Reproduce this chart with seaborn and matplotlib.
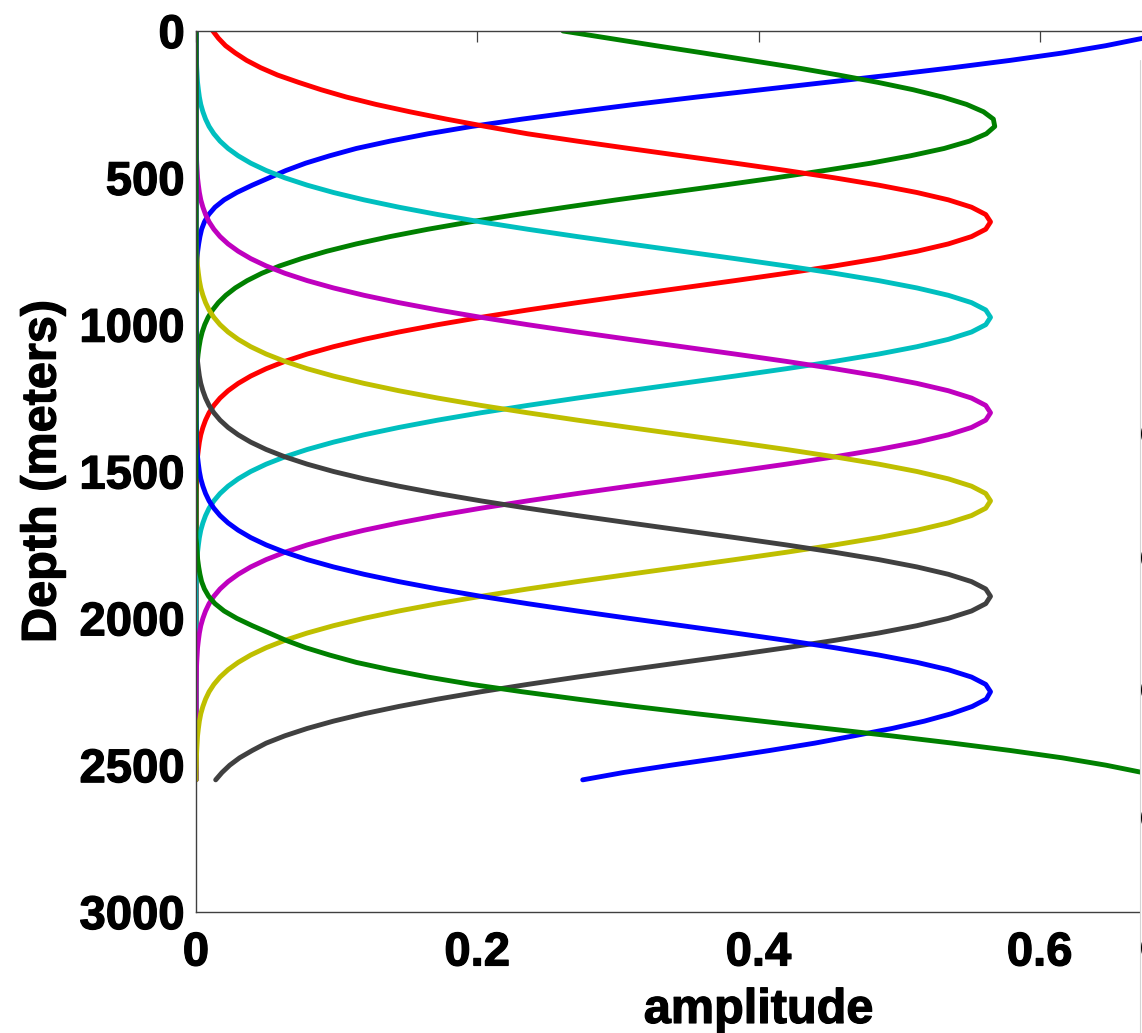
import numpy as np
import pandas as pd
import matplotlib
matplotlib.use("Agg")
import matplotlib.pyplot as plt
import matplotlib.patheffects as pe
from matplotlib.patches import Rectangle
from matplotlib.lines import Line2D
import seaborn as sns

# Depth samples (m) shared by every mode profile
depth_m = np.arange(0, 2551, 25)

# Amplitude of each mode at the depth samples above
amp_mode1 = [0.691, 0.673, 0.647, 0.616, 0.579, 0.538, 0.494, 0.448, 0.402, 0.356,
             0.312, 0.271, 0.232, 0.196, 0.165, 0.138, 0.114, 0.095, 0.078, 0.064,
             0.052, 0.040, 0.029, 0.020, 0.0135, 0.009, 0.006, 0.004, 0.0028, 0.0019,
             0.0012, 0.0008, 0.0005,
             0, 0, 0, 0, 0, 0, 0, 0, 0, 0, 0, 0, 0, 0, 0, 0, 0, 0, 0, 0,
             0, 0, 0, 0, 0, 0, 0, 0, 0, 0, 0, 0, 0, 0, 0, 0, 0, 0, 0, 0,
             0, 0, 0, 0, 0, 0, 0, 0, 0, 0, 0, 0, 0, 0, 0, 0, 0, 0, 0, 0,
             0, 0, 0, 0, 0, 0, 0, 0, 0, 0]

amp_mode2 = [0.261, 0.294, 0.327, 0.361, 0.394, 0.427, 0.457, 0.485, 0.510, 0.531,
             0.548, 0.560, 0.567, 0.568, 0.562, 0.550, 0.532, 0.508, 0.480, 0.447,
             0.412, 0.375, 0.337, 0.299, 0.263, 0.228, 0.195, 0.165, 0.138, 0.114,
             0.093, 0.075, 0.0595, 0.0468, 0.0364, 0.0279, 0.0212, 0.0159, 0.0118, 0.0086,
             0.0062, 0.0044, 0.0031, 0.0022, 0.0015, 0.0010, 0.0006, 0.0004,
             0, 0, 0, 0, 0, 0, 0, 0, 0, 0, 0, 0, 0, 0, 0, 0, 0, 0, 0, 0,
             0, 0, 0, 0, 0, 0, 0, 0, 0, 0, 0, 0, 0, 0, 0, 0, 0, 0, 0, 0,
             0, 0, 0, 0, 0, 0, 0, 0, 0, 0, 0, 0, 0, 0, 0]

amp_mode3 = [0.012, 0.016, 0.021, 0.028, 0.036, 0.046, 0.058, 0.073, 0.089, 0.107,
             0.128, 0.152, 0.178, 0.206,
             0.2358, 0.2711, 0.3080, 0.3456, 0.3832, 0.4197, 0.4541, 0.4855, 0.5127, 0.5350,
             0.5515, 0.5616, 0.565, 0.5616, 0.5515, 0.5350, 0.5127, 0.4855, 0.4541, 0.4197,
             0.3832, 0.3456, 0.3080, 0.2711, 0.2358, 0.2026, 0.1720, 0.1443, 0.1195, 0.0978,
             0.0791, 0.0632, 0.0499, 0.0389, 0.0300, 0.0228, 0.0171, 0.0127, 0.0093, 0.0068,
             0.0049, 0.0034, 0.0024, 0.0017, 0.0011, 0.0008, 0.0005, 0.0003, 0.0002,
             0, 0, 0, 0, 0, 0, 0, 0, 0, 0, 0, 0, 0, 0, 0, 0, 0, 0, 0, 0,
             0, 0, 0, 0, 0, 0, 0, 0, 0, 0, 0, 0, 0, 0, 0, 0, 0, 0, 0, 0]

amp_mode4 = [0, 0, 0,
             0.0002, 0.0003, 0.0005, 0.0008, 0.0011, 0.0017, 0.0024, 0.0034, 0.0049, 0.0068,
             0.0093, 0.0127, 0.0171, 0.0228, 0.0300, 0.0389, 0.0499, 0.0632, 0.0791, 0.0978,
             0.1195, 0.1443, 0.1720, 0.2026, 0.2358, 0.2711, 0.3080, 0.3456, 0.3832, 0.4197,
             0.4541, 0.4855, 0.5127, 0.5350, 0.5515, 0.5616, 0.565, 0.5616, 0.5515, 0.5350,
             0.5127, 0.4855, 0.4541, 0.4197, 0.3832, 0.3456, 0.3080, 0.2711, 0.2358, 0.2026,
             0.1720, 0.1443, 0.1195, 0.0978, 0.0791, 0.0632, 0.0499, 0.0389, 0.0300, 0.0228,
             0.0171, 0.0127, 0.0093, 0.0068, 0.0049, 0.0034, 0.0024, 0.0017, 0.0011, 0.0008,
             0.0005, 0.0003, 0.0002,
             0, 0, 0, 0, 0, 0, 0, 0, 0, 0, 0, 0, 0, 0, 0, 0, 0, 0, 0, 0,
             0, 0, 0, 0, 0, 0, 0]

amp_mode5 = [0, 0, 0, 0, 0, 0, 0, 0, 0, 0, 0, 0, 0, 0, 0, 0,
             0.0002, 0.0003, 0.0005, 0.0008, 0.0011, 0.0017, 0.0024, 0.0034, 0.0049, 0.0068,
             0.0093, 0.0127, 0.0171, 0.0228, 0.0300, 0.0389, 0.0499, 0.0632, 0.0791, 0.0978,
             0.1195, 0.1443, 0.1720, 0.2026, 0.2358, 0.2711, 0.3080, 0.3456, 0.3832, 0.4197,
             0.4541, 0.4855, 0.5127, 0.5350, 0.5515, 0.5616, 0.565, 0.5616, 0.5515, 0.5350,
             0.5127, 0.4855, 0.4541, 0.4197, 0.3832, 0.3456, 0.3080, 0.2711, 0.2358, 0.2026,
             0.1720, 0.1443, 0.1195, 0.0978, 0.0791, 0.0632, 0.0499, 0.0389, 0.0300, 0.0228,
             0.0171, 0.0127, 0.0093, 0.0068, 0.0049, 0.0034, 0.0024, 0.0017, 0.0011, 0.0008,
             0.0005, 0.0003, 0.0002,
             0, 0, 0, 0, 0, 0, 0, 0, 0, 0, 0, 0, 0, 0]

amp_mode6 = [0, 0, 0, 0, 0, 0, 0, 0, 0, 0, 0, 0, 0, 0, 0, 0, 0, 0, 0, 0,
             0, 0, 0, 0, 0, 0, 0, 0,
             0.0002, 0.0003, 0.0005, 0.0008, 0.0011, 0.0017, 0.0024, 0.0034, 0.0049, 0.0068,
             0.0093, 0.0127, 0.0171, 0.0228, 0.0300, 0.0389, 0.0499, 0.0632, 0.0791, 0.0978,
             0.1195, 0.1443, 0.1720, 0.2026, 0.2358, 0.2711, 0.3080, 0.3456, 0.3832, 0.4197,
             0.4541, 0.4855, 0.5127, 0.5350, 0.5515, 0.5616, 0.565, 0.5616, 0.5515, 0.5350,
             0.5127, 0.4855, 0.4541, 0.4197, 0.3832, 0.3456, 0.3080, 0.2711, 0.2358, 0.2026,
             0.1720, 0.1443, 0.1195, 0.0978, 0.0791, 0.0632, 0.0499, 0.0389, 0.0300, 0.0228,
             0.0171, 0.0127, 0.0093, 0.0068, 0.0049, 0.0034, 0.0024, 0.0017, 0.0011, 0.0008,
             0.0005, 0.0003, 0.0002,
             0, 0]

amp_mode7 = [0, 0, 0, 0, 0, 0, 0, 0, 0, 0, 0, 0, 0, 0, 0, 0, 0, 0, 0, 0,
             0, 0, 0, 0, 0, 0, 0, 0, 0, 0, 0, 0, 0, 0, 0, 0, 0, 0, 0, 0, 0,
             0.0002, 0.0003, 0.0005, 0.0008, 0.0011, 0.0017, 0.0024, 0.0034, 0.0049, 0.0068,
             0.0093, 0.0127, 0.0171, 0.0228, 0.0300, 0.0389, 0.0499, 0.0632, 0.0791, 0.0978,
             0.1195, 0.1443, 0.1720, 0.2026, 0.2358, 0.2711, 0.3080, 0.3456, 0.3832, 0.4197,
             0.4541, 0.4855, 0.5127, 0.5350, 0.5515, 0.5616, 0.565, 0.5616, 0.5515, 0.5350,
             0.5127, 0.4855, 0.4541, 0.4197, 0.3832, 0.3456, 0.3080, 0.2711, 0.2358, 0.2026,
             0.1720, 0.1443, 0.1195, 0.0978, 0.0791, 0.0632, 0.0499, 0.040, 0.031, 0.024,
             0.0185, 0.014]

amp_mode8 = [0, 0, 0, 0, 0, 0, 0, 0, 0, 0, 0, 0, 0, 0, 0, 0, 0, 0, 0, 0,
             0, 0, 0, 0, 0, 0, 0, 0, 0, 0, 0, 0, 0, 0, 0, 0, 0, 0, 0, 0,
             0, 0, 0, 0, 0, 0, 0, 0, 0, 0, 0, 0, 0, 0,
             0.0002, 0.0003, 0.0005, 0.0008, 0.0011, 0.0017, 0.0024, 0.0034, 0.0049, 0.0068,
             0.0093, 0.0127, 0.0171, 0.0228, 0.0300, 0.0389, 0.0499, 0.0632, 0.0791, 0.0978,
             0.1195, 0.1443, 0.1720, 0.2026, 0.2358, 0.2711, 0.3080, 0.3456, 0.3832, 0.4197,
             0.4541, 0.4855, 0.5127, 0.5350, 0.5515, 0.5616, 0.565,
             0.562, 0.552, 0.537, 0.518, 0.495, 0.468, 0.440, 0.408, 0.374, 0.338,
             0.304, 0.275]

amp_mode9 = [0, 0, 0, 0, 0, 0, 0, 0, 0, 0, 0, 0, 0, 0, 0, 0, 0, 0, 0, 0,
             0, 0, 0, 0, 0, 0, 0, 0, 0, 0, 0, 0, 0, 0, 0, 0, 0, 0, 0, 0,
             0, 0, 0, 0, 0, 0, 0, 0, 0, 0, 0, 0, 0, 0, 0, 0, 0, 0, 0, 0,
             0, 0, 0, 0, 0, 0, 0, 0, 0, 0,
             0.0005, 0.0008, 0.0012, 0.0019, 0.0028, 0.004, 0.006, 0.009, 0.0135, 0.020,
             0.029, 0.040, 0.052, 0.064, 0.078, 0.095, 0.114, 0.138, 0.165, 0.196,
             0.232, 0.271, 0.312, 0.356, 0.402, 0.448, 0.494, 0.538, 0.579, 0.616,
             0.647, 0.673, 0.691]

mode_names = ["mode 1", "mode 2", "mode 3", "mode 4", "mode 5",
              "mode 6", "mode 7", "mode 8", "mode 9"]
mode_amps = [amp_mode1, amp_mode2, amp_mode3, amp_mode4, amp_mode5,
             amp_mode6, amp_mode7, amp_mode8, amp_mode9]
mode_colors = ["#0000ff", "#008000", "#ff0000", "#00bfbf", "#bf00bf",
               "#bfbf00", "#404040", "#0000ff", "#008000"]

x_ticks = [0, 0.2, 0.4, 0.6]
x_tick_labels = ["0", "0.2", "0.4", "0.6"]
y_ticks = [0, 500, 1000, 1500, 2000, 2500, 3000]
y_tick_labels = ["0", "500", "1000", "1500", "2000", "2500", "3000"]

frames = []
for name, amps in zip(mode_names, mode_amps):
    frames.append(pd.DataFrame({"depth": depth_m, "amplitude": np.asarray(amps, float), "mode": name}))
df = pd.concat(frames, ignore_index=True)

sns.set_theme(style="white")
plt.rcParams["font.family"] = ["Liberation Sans", "DejaVu Sans"]
plt.rcParams["font.weight"] = "bold"
plt.rcParams["axes.labelcolor"] = "black"
plt.rcParams["text.color"] = "black"

W, H = 1142, 1033
fig = plt.figure(figsize=(W / 100, H / 100), dpi=100)
fig.patch.set_facecolor("white")
# axes box: x from 196 px to beyond the right edge, y from 31 px to 912 px
ax = fig.add_axes([196 / W, (H - 912) / H, (1321 - 196) / W, (912 - 31) / H])
ax.set_facecolor("white")

sns.lineplot(data=df, x="amplitude", y="depth", hue="mode", hue_order=mode_names,
             palette=mode_colors, sort=False, estimator=None, orient="y",
             linewidth=3.5, legend=False, ax=ax)

ax.set_xlim(0, 0.8)
ax.set_ylim(3000, 0)
ax.set_xticks(x_ticks)
ax.set_xticklabels(x_tick_labels)
ax.set_yticks(y_ticks)
ax.set_yticklabels(y_tick_labels)

for s in ax.spines.values():
    s.set_visible(True)
    s.set_color("#404040")
    s.set_linewidth(1.0)

ax.tick_params(axis="both", direction="in", length=8, width=0.9, color="#404040",
               labelsize=34, labelcolor="black", top=True, right=True)
ax.tick_params(axis="x", pad=14)
ax.tick_params(axis="y", pad=8)

heavy = [pe.withStroke(linewidth=0.9, foreground="black")]
for lab in ax.get_xticklabels() + ax.get_yticklabels():
    lab.set_fontweight("bold")
    lab.set_path_effects(heavy)

ax.set_xlabel("amplitude", fontsize=35, fontweight="bold", color="black", labelpad=9,
              path_effects=heavy)
ax.set_ylabel("Depth (meters)", fontsize=35, fontweight="bold", color="black", labelpad=10,
              path_effects=heavy)

# neighbouring panel edge on the right
fig.add_artist(Rectangle((1139.5 / W, 0), (W - 1139.5) / W, (H - 60) / H,
                         transform=fig.transFigure, facecolor="white",
                         edgecolor="none", zorder=5))
fig.add_artist(Line2D([1139.5 / W, 1139.5 / W], [0, (H - 60) / H],
                      transform=fig.transFigure, color="#d4d4d4", lw=0.8, zorder=6))
for ypx in [436, 560, 692, 820, 950]:
    fig.text(1139.6 / W, 1 - ypx / H, "0", fontsize=18, fontweight="bold",
             ha="left", va="center", zorder=7)

fig.savefig("out.png", dpi=100, facecolor="white")
